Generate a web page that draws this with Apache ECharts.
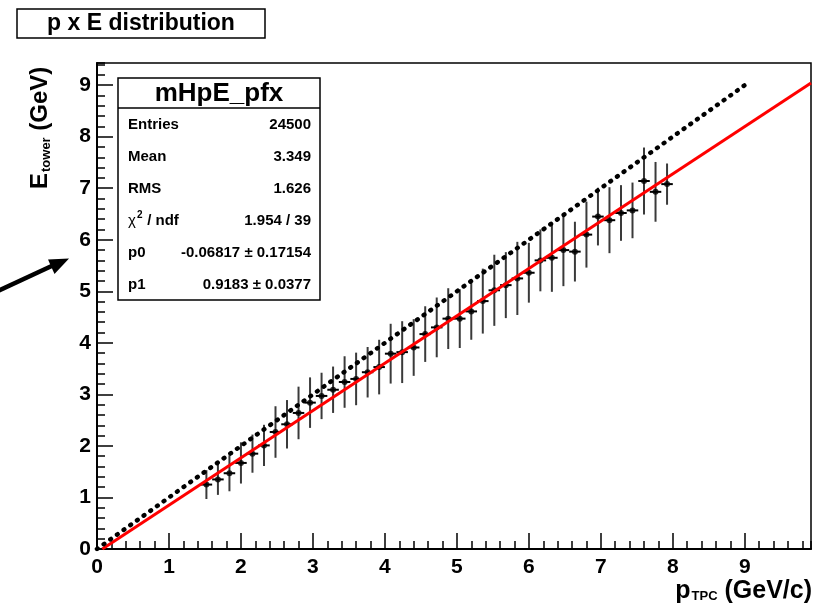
<!DOCTYPE html>
<html>
<head>
<meta charset="utf-8">
<script src="https://cdn.jsdelivr.net/npm/echarts@6/dist/echarts.min.js"></script>
<style>
  html, body { margin: 0; padding: 0; background: #fff; }
  #main { width: 823px; height: 609px; }
</style>
</head>
<body>
<div id="main"></div>
<script>
// profile bins (bin centres, mean E, error on mean)
var pfxX = [1.52, 1.68, 1.84, 2.00, 2.16, 2.32, 2.48, 2.64, 2.80, 2.96, 3.12, 3.28, 3.44, 3.60,
  3.76, 3.92, 4.08, 4.24, 4.40, 4.56, 4.72, 4.88, 5.04, 5.20, 5.36, 5.52, 5.68, 5.84, 6.00, 6.16,
  6.32, 6.48, 6.64, 6.80, 6.96, 7.12, 7.28, 7.44, 7.60, 7.76, 7.92]
var pfxY = [1.25, 1.35, 1.47, 1.67, 1.85, 2.01, 2.27, 2.42, 2.64, 2.84, 2.97, 3.09, 3.24, 3.30,
  3.43, 3.53, 3.79, 3.82, 3.91, 4.17, 4.30, 4.47, 4.47, 4.61, 4.81, 5.02, 5.12, 5.25, 5.36, 5.60,
  5.65, 5.80, 5.77, 6.10, 6.45, 6.38, 6.52, 6.57, 7.14, 6.93, 7.08]
var pfxErr = [0.28, 0.30, 0.35, 0.40, 0.37, 0.40, 0.50, 0.47, 0.51, 0.49, 0.45, 0.45, 0.50, 0.51,
  0.49, 0.53, 0.58, 0.60, 0.55, 0.54, 0.58, 0.59, 0.57, 0.55, 0.63, 0.69, 0.64, 0.71, 0.58, 0.60,
  0.66, 0.70, 0.58, 0.64, 0.56, 0.64, 0.54, 0.54, 0.65, 0.58, 0.40]
var binHalf = 0.08

// fit line end points and the E = p reference line
var fitLine = [[0.074, 0], [9.92, 9.04]]
var diagLine = [[0, 0], [9, 9]]

// stats box
var statNames = ['Entries', 'Mean', 'RMS', 'chi2', 'p0', 'p1']
var statValues = ['24500', '3.349', '1.626', '1.954 / 39', '-0.06817 \u00b1 0.17154', '0.9183 \u00b1 0.0377']

var xMax = 9.92
var yMax = 9.43

var FONT = '"Liberation Sans", Arial, sans-serif'
var ctx = document.createElement('canvas').getContext('2d')
function textW (str, font) {
  ctx.font = font
  return ctx.measureText(str).width
}

function txt (x, y, str, size, align, extra) {
  var el = {
    type: 'text',
    x: x,
    y: y,
    z: 100,
    style: {
      text: str,
      font: 'bold ' + size + 'px ' + FONT,
      fill: '#000',
      textAlign: align || 'left',
      textVerticalAlign: 'middle',
      align: align || 'left',
      verticalAlign: 'middle'
    }
  }
  if (extra) Object.assign(el.style, extra)
  return el
}

var chart = echarts.init(document.getElementById('main'), null, { renderer: 'canvas' })

// stats box graphics
var boxL = 118, boxR = 320, boxT = 78, boxB = 300
var rowY = [125, 157, 189, 221, 253, 285]
var statEls = [
  { type: 'rect', z: 99, shape: { x: boxL, y: boxT, width: boxR - boxL, height: boxB - boxT },
    style: { fill: '#fff', stroke: '#000', lineWidth: 1.5 } },
  { type: 'line', z: 100, shape: { x1: boxL, y1: 108, x2: boxR, y2: 108 },
    style: { stroke: '#000', lineWidth: 1.5 } },
  txt((boxL + boxR) / 2, 94, 'mHpE_pfx', 26, 'center')
]
statNames.forEach(function (n, i) {
  if (n === 'chi2') {
    statEls.push(txt(128, rowY[i], '\u03c7', 15, 'left', { font: '15px ' + FONT }))
    statEls.push(txt(137, rowY[i] - 6, '2', 10, 'left'))
    statEls.push(txt(143, rowY[i], ' / ndf', 15, 'left'))
  } else {
    statEls.push(txt(128, rowY[i], n, 15, 'left'))
  }
  statEls.push(txt(311, rowY[i], statValues[i], 15, 'right'))
})

// axis titles
var xT1 = '(GeV/c)', xFont = 'bold 25px ' + FONT, xSubFont = 'bold 13px ' + FONT
var xEnd = 812
var xW1 = textW(xT1, xFont), xWs = textW(' ', xFont), xWsub = textW('TPC', xSubFont)
var xTitle = [
  txt(xEnd, 591, xT1, 25, 'right'),
  txt(xEnd - xW1 - xWs, 596, 'TPC', 13, 'right'),
  txt(xEnd - xW1 - xWs - xWsub - 1, 591, 'p', 25, 'right')
]
var yFont = 'bold 24px ' + FONT, ySubFont = 'bold 13px ' + FONT
var wE = textW('E', yFont), wTow = textW('tower', ySubFont)
var yTitle = {
  type: 'group',
  x: 40,
  y: 189,
  rotation: Math.PI / 2,
  children: [
    txt(0, 0, 'E', 24, 'left'),
    txt(wE + 1, 6, 'tower', 13, 'left'),
    txt(wE + 1 + wTow, 0, ' (GeV)', 24, 'left')
  ]
}

var graphics = [
  { type: 'rect', shape: { x: 17, y: 9, width: 248, height: 29 },
    style: { fill: '#fff', stroke: '#000', lineWidth: 1.5 } },
  txt(141, 24, 'p x E distribution', 23, 'center'),
  // arrow
  { type: 'line', shape: { x1: -2, y1: 291, x2: 56, y2: 264 },
    style: { stroke: '#000', lineWidth: 4.5 } },
  { type: 'polygon', shape: { points: [[69, 258.5], [54.5, 274], [48, 259.5]] },
    style: { fill: '#000' } },
  yTitle
].concat(xTitle).concat(statEls)

var axisLabelStyle = {
  fontFamily: FONT,
  fontWeight: 'bold',
  fontSize: 21,
  color: '#000'
}

var option = {
  backgroundColor: '#fff',
  animation: false,
  grid: {
    left: 97,
    top: 63,
    width: 714,
    height: 486,
    show: true,
    borderColor: '#000',
    borderWidth: 1.5,
    backgroundColor: 'transparent',
    containLabel: false,
    outerBoundsMode: 'none'
  },
  xAxis: [
    {
      type: 'value', min: 0, max: xMax, interval: 1, position: 'bottom',
      axisLine: { show: true, onZero: false, lineStyle: { color: '#000', width: 2 } },
      axisTick: { show: true, inside: true, length: 16, lineStyle: { color: '#000', width: 1.5 } },
      axisLabel: Object.assign({ margin: 8, showMaxLabel: false, showMinLabel: true }, axisLabelStyle),
      splitLine: { show: false }
    },
    {
      type: 'value', min: 0, max: xMax, interval: 0.2, position: 'bottom',
      axisLine: { show: false },
      axisTick: { show: true, inside: true, length: 8, lineStyle: { color: '#000', width: 1.5 } },
      axisLabel: { show: false },
      splitLine: { show: false }
    }
  ],
  yAxis: [
    {
      type: 'value', min: 0, max: yMax, interval: 1, position: 'left',
      axisLine: { show: true, onZero: false, lineStyle: { color: '#000', width: 2 } },
      axisTick: { show: true, inside: true, length: 16, lineStyle: { color: '#000', width: 1.5 } },
      axisLabel: Object.assign({ margin: 6, showMaxLabel: false, showMinLabel: true }, axisLabelStyle),
      splitLine: { show: false }
    },
    {
      type: 'value', min: 0, max: yMax, interval: 0.2, position: 'left',
      axisLine: { show: false },
      axisTick: { show: true, inside: true, length: 8, lineStyle: { color: '#000', width: 1.5 } },
      axisLabel: { show: false },
      splitLine: { show: false }
    }
  ],
  series: [
    {
      type: 'custom',
      xAxisIndex: 0,
      yAxisIndex: 0,
      encode: { x: 0, y: 1 },
      data: pfxX.map(function (x, i) { return [x, pfxY[i], pfxErr[i]] }),
      renderItem: function (params, api) {
        var x = api.value(0), y = api.value(1), e = api.value(2)
        var top = api.coord([x, y + e])
        var bot = api.coord([x, y - e])
        var l = api.coord([x - binHalf, y])
        var r = api.coord([x + binHalf, y])
        return {
          type: 'group',
          children: [
            { type: 'line', shape: { x1: top[0], y1: top[1], x2: bot[0], y2: bot[1] },
              style: { stroke: '#3a3a3a', lineWidth: 2 } },
            { type: 'line', shape: { x1: l[0], y1: l[1], x2: r[0], y2: r[1] },
              style: { stroke: '#000', lineWidth: 2 } }
          ]
        }
      },
      z: 2
    },
    {
      type: 'scatter',
      data: pfxX.map(function (x, i) { return [x, pfxY[i]] }),
      symbol: 'circle',
      symbolSize: 6,
      itemStyle: { color: '#000' },
      z: 3
    },
    {
      type: 'line',
      data: fitLine,
      showSymbol: false,
      symbol: 'none',
      clip: true,
      lineStyle: { color: '#ff0000', width: 3 },
      z: 4
    },
    {
      type: 'line',
      data: diagLine,
      showSymbol: false,
      symbol: 'none',
      clip: true,
      lineStyle: { color: '#000', width: 4.5, type: [0.8, 7.4], cap: 'round' },
      z: 5
    }
  ],
  graphic: graphics
}

chart.setOption(option)
</script>
</body>
</html>
